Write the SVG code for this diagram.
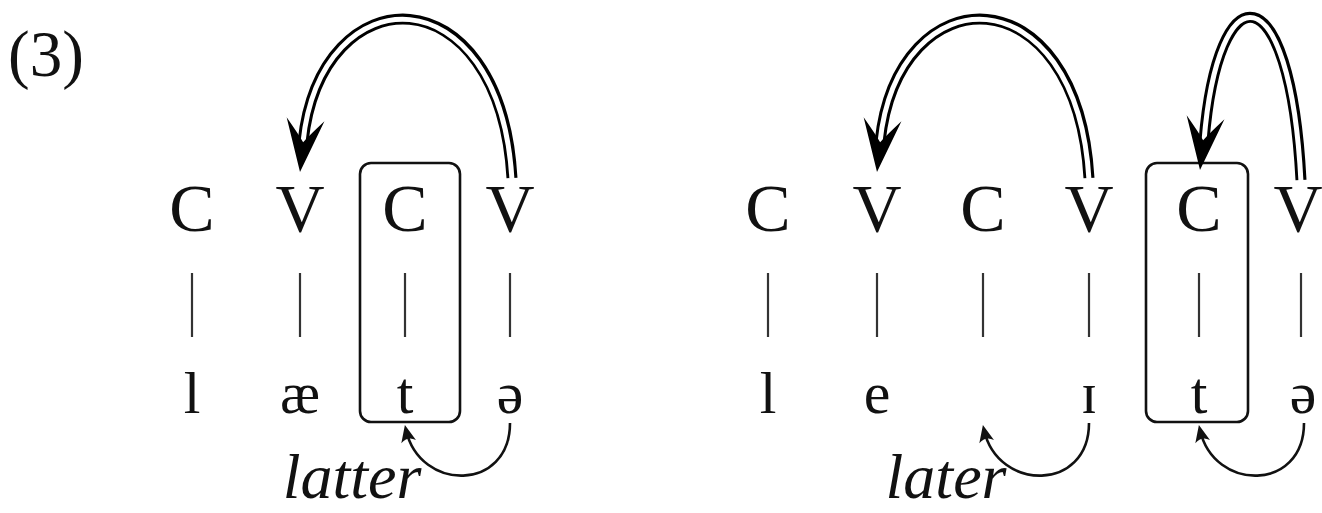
<svg xmlns="http://www.w3.org/2000/svg" xmlns:xlink="http://www.w3.org/1999/xlink" width="1322" height="513" viewBox="0 0 1322 513">
<style>
.t{font-family:"Liberation Serif","DejaVu Serif",serif;fill:#111;text-anchor:middle}
.top{font-size:68px}
.bot{font-size:60px}
.it{font-size:64px;font-style:italic}
.bar{stroke:#333;stroke-width:2.2}
.box{fill:none;stroke:#111;stroke-width:2.6}
.dblo{fill:none;stroke:#000;stroke-width:11}
.dbli{fill:none;stroke:#fff;stroke-width:5}
.small{fill:none;stroke:#111;stroke-width:2.6}
</style>
<defs>
<path id="head" d="M0,0 L-19,-53 Q-6,-38 0,-30 Q6,-38 19,-53 Z" fill="#000"/>
<marker id="sm" markerUnits="userSpaceOnUse" viewBox="-14 -9 20 18" refX="0" refY="0" markerWidth="20" markerHeight="18" orient="auto">
<path d="M5,0 L-12,-7.5 Q-6,0 -12,7.5 Z" fill="#111"/>
</marker>
</defs>
<rect width="1322" height="513" fill="#fff"/>
<text class="t" x="8" y="76" font-size="65" style="text-anchor:start">(3)</text>

<g id="left-latter">
<g id="L-C1"><text class="t top" x="192" y="231">C</text><line class="bar" x1="192" y1="273" x2="192" y2="337"/><text class="t bot" x="192" y="413">l</text></g>
<g id="L-V1"><text class="t top" x="300" y="231">V</text><line class="bar" x1="300" y1="273" x2="300" y2="337"/><text class="t bot" x="300" y="413">æ</text></g>
<g id="L-C2"><rect class="box" x="360" y="163" width="100" height="259" rx="11"/><text class="t top" x="405" y="231">C</text><line class="bar" x1="405" y1="273" x2="405" y2="337"/><text class="t bot" x="405" y="413">t</text></g>
<g id="L-V2"><text class="t top" x="510" y="231">V</text><line class="bar" x1="510" y1="273" x2="510" y2="337"/><text class="t bot" x="510" y="413">ə</text></g>
<text class="t it" x="352" y="498">latter</text>
</g>

<g id="right-later">
<g id="R-C1"><text class="t top" x="768" y="231">C</text><line class="bar" x1="768" y1="273" x2="768" y2="337"/><text class="t bot" x="768" y="413">l</text></g>
<g id="R-V1"><text class="t top" x="877" y="231">V</text><line class="bar" x1="877" y1="273" x2="877" y2="337"/><text class="t bot" x="877" y="413">e</text></g>
<g id="R-C2"><text class="t top" x="983" y="231">C</text><line class="bar" x1="983" y1="273" x2="983" y2="337"/></g>
<g id="R-V2"><text class="t top" x="1089" y="231">V</text><line class="bar" x1="1089" y1="273" x2="1089" y2="337"/><text class="t bot" x="1089" y="413">ɪ</text></g>
<g id="R-C3"><rect class="box" x="1146" y="163" width="102" height="259" rx="11"/><text class="t top" x="1199" y="231">C</text><line class="bar" x1="1199" y1="273" x2="1199" y2="337"/><text class="t bot" x="1199" y="413">t</text></g>
<g id="R-V3"><text class="t top" x="1298" y="231">V</text><line class="bar" x1="1301" y1="273" x2="1301" y2="337"/><text class="t bot" x="1303" y="413">ə</text></g>
<text class="t it" x="946" y="498">later</text>
</g>

<g id="connectors">
<path class="dblo" d="M512,178 C500,-28 321,-27 303,142"/>
<path class="dbli" d="M512,180 C500,-28 321,-27 303,142"/>
<use xlink:href="#head" transform="translate(300,172) rotate(6)"/>

<path class="dblo" d="M1089,178 C1077,-28 898,-27 880,142"/>
<path class="dbli" d="M1089,180 C1077,-28 898,-27 880,142"/>
<use xlink:href="#head" transform="translate(877,172) rotate(6)"/>

<path class="dblo" d="M1301,180 C1290,-30 1218,-30 1204,141"/>
<path class="dbli" d="M1301,182 C1290,-30 1218,-30 1204,141"/>
<use xlink:href="#head" transform="translate(1200,170) rotate(6)"/>

<path class="small" d="M510,423 C510,492 420,492 406,430" marker-end="url(#sm)"/>
<path class="small" d="M1089,423 C1089,492 998,492 984,430" marker-end="url(#sm)"/>
<path class="small" d="M1304,423 C1304,492 1214,492 1200,430" marker-end="url(#sm)"/>
</g>
</svg>
